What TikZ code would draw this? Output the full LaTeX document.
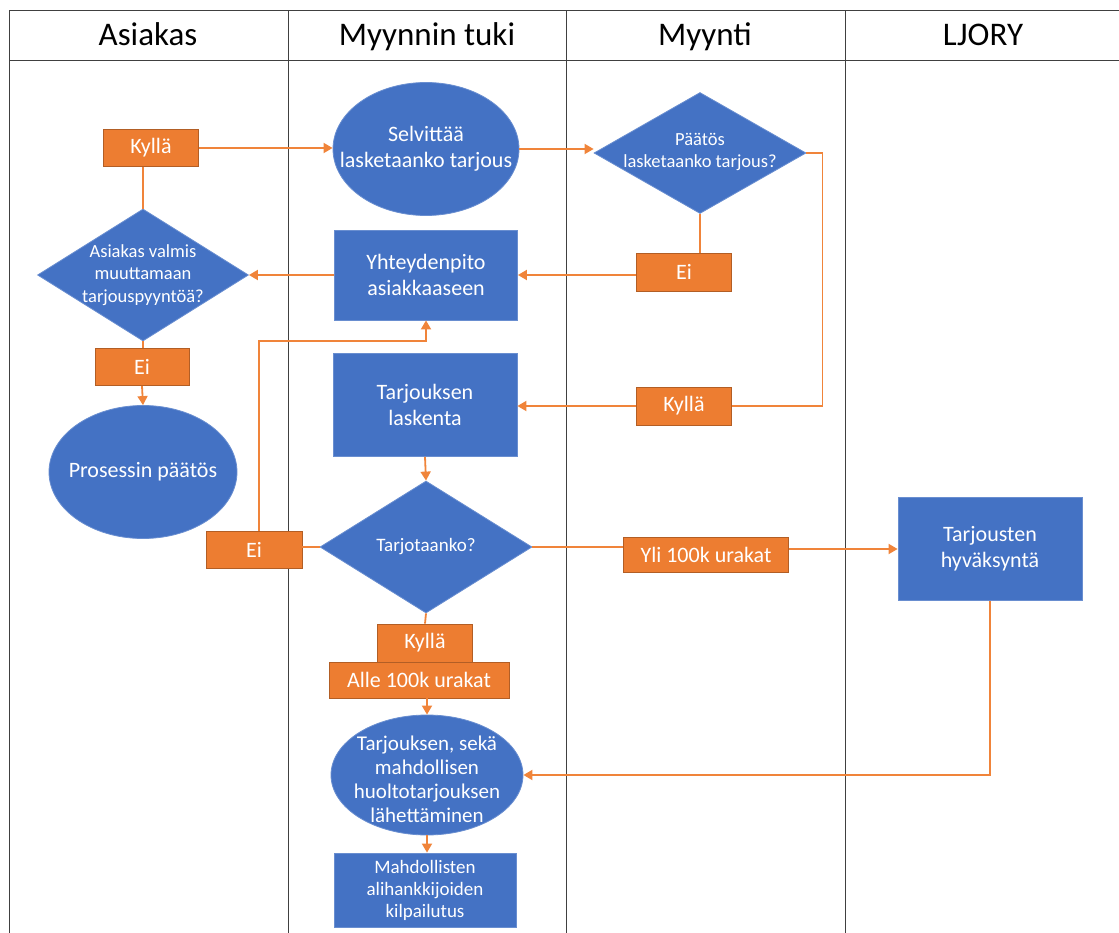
\documentclass[tikz,border=0pt]{standalone}
\usepackage{fontspec}
\setmainfont{Carlito}
\usetikzlibrary{shapes.geometric,arrows.meta}
\definecolor{boxblue}{HTML}{4472C4}
\definecolor{boxorange}{HTML}{ED7D31}
\definecolor{lineorange}{HTML}{F0843A}

\begin{document}
\begin{tikzpicture}[x=1pt,y=-1pt,
    lane/.style={draw=black!75,line width=1pt},
    headtext/.style={anchor=base,font=\fontsize{33}{38}\selectfont},
    task/.style={rectangle,fill=boxblue,draw=boxblue!80!white,line width=0.8pt,text=white,align=center,inner sep=0pt,font=\fontsize{22}{26}\selectfont},
    oval/.style={ellipse,fill=boxblue,draw=boxblue!80!white,line width=0.8pt,inner sep=0pt},
    decide/.style={diamond,fill=boxblue,draw=boxblue!80!white,line width=0.8pt,inner sep=0pt},
    intext/.style={text=white,align=center,inner sep=0pt},
    answer/.style={rectangle,fill=boxorange,draw=boxorange!75!black,line width=0.8pt,text=white,inner sep=0pt,minimum height=37pt,font=\fontsize{22}{26}\selectfont},
    link/.style={draw=lineorange,line width=1.8pt},
    flow/.style={link,-{Triangle[length=9pt,width=10pt]}}
  ]
  \useasboundingbox (0,0) rectangle (1119,933);
  % lanes and headers
  \draw[lane] (9,11) -- (1119,11);
  \draw[lane] (9,61) -- (1119,61);
  \foreach \lx in {9,288,566,845}
    \draw[lane] (\lx,11) -- (\lx,933);
  \foreach \cx/\lbl [count=\i] in {148/Asiakas,427/Myynnin tuki,705/Myynti,983/LJORY}
    \node[headtext] (lane\i) at (\cx,46) {\lbl};

  % Asiakas
  \node[answer,minimum width=95pt] (kylla1) at (151,148) {Kyllä};
  \node[decide,minimum width=211pt,minimum height=132pt] (valmis) at (143,275) {};
  \node[intext,font=\fontsize{18.5}{22.5}\selectfont] (valmis-t) at (valmis) {Asiakas valmis\\muuttamaan\\tarjouspyyntöä?};
  \node[answer,minimum width=94pt] (eiA) at (142,367) {Ei};
  \node[oval,minimum width=188pt,minimum height=133pt] (proc) at (143,472) {};
  \node[intext,font=\fontsize{22}{26}\selectfont] (proc-t) at (proc) {Prosessin päätös};

  % Myynnin tuki
  \node[oval,minimum width=186pt,minimum height=133pt] (selv) at (426,149) {};
  \node[intext,font=\fontsize{22}{26}\selectfont] (selv-t) at (selv) {Selvittää\\lasketaanko tarjous};
  \node[task,minimum width=183pt,minimum height=90pt] (yht) at (426,275) {Yhteydenpito\\asiakkaaseen};
  \node[task,minimum width=184pt,minimum height=103pt] (lask) at (425,405) {Tarjouksen\\laskenta};
  \node[decide,minimum width=212pt,minimum height=132pt] (tarj) at (426,547) {};
  \node[intext,font=\fontsize{19}{22}\selectfont] (tarj-t) at (tarj) {Tarjotaanko?};
  \node[answer,minimum width=96pt] (eiT) at (254,550) {Ei};
  \node[answer,minimum width=95pt,minimum height=38pt] (kyllaT) at (425,643) {Kyllä};
  \node[answer,minimum width=180pt,minimum height=36pt] (alle) at (419,680) {Alle 100k urakat};
  \node[oval,minimum width=192pt,minimum height=120pt] (send) at (427,775) {};
  \node[intext,font=\fontsize{21}{24}\selectfont] (send-t) at (427,779) {Tarjouksen, sekä\\mahdollisen\\huoltotarjouksen\\lähettäminen};
  \node[task,minimum width=182pt,minimum height=74pt,font=\fontsize{19}{22}\selectfont] (mahd) at (425,890) {Mahdollisten\\alihankkijoiden\\kilpailutus};

  % Myynti
  \node[decide,minimum width=212pt,minimum height=121pt] (paat) at (700,153) {};
  \node[intext,font=\fontsize{18.5}{22}\selectfont] (paat-t) at (700,152) {Päätös\\lasketaanko tarjous?};
  \node[answer,minimum width=95pt,minimum height=38pt] (eiM) at (684,272) {Ei};
  \node[answer,minimum width=95pt,minimum height=38pt] (kyllaM) at (684,406) {Kyllä};
  \node[answer,minimum width=165pt,minimum height=35pt] (yli) at (706,555) {Yli 100k urakat};

  % LJORY
  \node[task,minimum width=184pt,minimum height=103pt] (hyv) at (990,549) {Tarjousten\\hyväksyntä};

  % connectors
  \draw[flow] (kylla1.east) -- (kylla1.east -| selv.west);
  \draw[link] (valmis.north |- kylla1.south) -- (valmis.north);
  \draw[flow] (selv.east) -- (selv.east -| paat.west);
  \draw[link] (paat.south) -- (paat.south |- eiM.north);
  \draw[flow] (yht.east -| eiM.west) -- (yht.east);
  \draw[flow] (yht.west) -- (valmis.east);
  \draw[link] (valmis.south) -- (valmis.south |- eiA.north);
  \draw[flow] (eiA.south) -- (proc.north);
  \draw[link] (paat.east) -- ++(16,0) |- (kyllaM.east);
  \draw[flow] (kyllaM.west) -- (kyllaM.west -| lask.east);
  \draw[flow] (lask.south) -- (tarj.north);
  \draw[link] (tarj.west) -- (tarj.west -| eiT.east);
  \draw[flow] ([xshift=5pt]eiT.north) -- ++(0,-190) -| (yht.south);
  \draw[link] (tarj.east) -- (tarj.east -| yli.west);
  \draw[flow] (yli.east |- hyv.west) -- (hyv.west);
  \draw[link] (tarj.south) -- (kyllaT.north);
  \draw[flow] (alle.south -| send.north) -- (send.north);
  \draw[flow] (hyv.south) |- (send.east);
  \draw[flow] (send.south) -- (send.south |- mahd.north);
\end{tikzpicture}
\end{document}
